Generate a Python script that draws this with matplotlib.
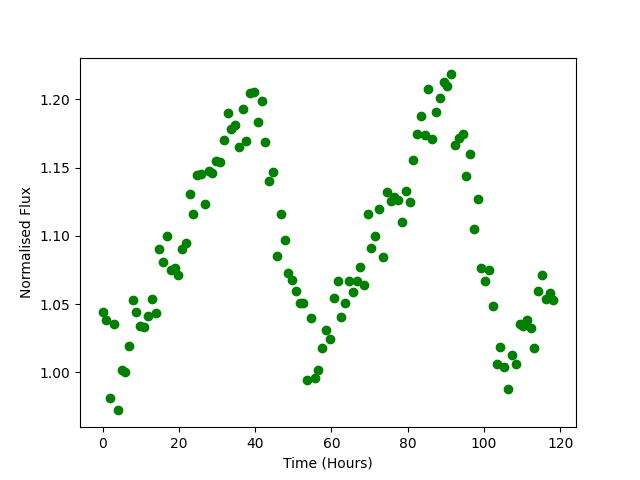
from matplotlib import pyplot as plt

# time of each sample, hours
hours = [0.0, 1.0, 2.0, 3.0, 4.0, 5.0, 6.0, 7.0, 7.9, 8.9,
         9.9, 10.9, 11.9, 12.9, 13.9, 14.9, 15.9, 16.9, 17.9, 18.9,
         19.9, 20.9, 21.9, 22.8, 23.8, 24.8, 25.8, 26.8, 27.8, 28.8,
         29.8, 30.8, 31.8, 32.8, 33.8, 34.8, 35.8, 36.8, 37.7, 38.7,
         39.7, 40.7, 41.7, 42.7, 43.7, 44.7, 45.7, 46.7, 47.7, 48.7,
         49.7, 50.7, 51.7, 52.6, 53.6, 54.6, 55.6, 56.6, 57.6, 58.6,
         59.6, 60.6, 61.6, 62.6, 63.6, 64.6, 65.6, 66.6, 67.5, 68.5,
         69.5, 70.5, 71.5, 72.5, 73.5, 74.5, 75.5, 76.5, 77.5, 78.5,
         79.5, 80.5, 81.5, 82.4, 83.4, 84.4, 85.4, 86.4, 87.4, 88.4,
         89.4, 90.4, 91.4, 92.4, 93.4, 94.4, 95.4, 96.3, 97.3, 98.3,
         99.3, 100.3, 101.3, 102.3, 103.3, 104.3, 105.3, 106.3, 107.3, 108.3,
         109.3, 110.3, 111.2, 112.2, 113.2, 114.2, 115.2, 116.2, 117.2, 118.2]

flux = [1.0444, 1.0386, 0.9810, 1.0356, 0.9722, 1.0015, 1.0005, 1.0195, 1.0527, 1.0444,
        1.0342, 1.0332, 1.0410, 1.0534, 1.0437, 1.0906, 1.0805, 1.0996, 1.0752, 1.0766,
        1.0712, 1.0906, 1.0947, 1.1308, 1.1162, 1.1442, 1.1455, 1.1235, 1.1474, 1.1459,
        1.1547, 1.1537, 1.1704, 1.1901, 1.1784, 1.1813, 1.1654, 1.1930, 1.1698, 1.2045,
        1.2052, 1.1835, 1.1986, 1.1684, 1.1403, 1.1471, 1.0849, 1.1162, 1.0971, 1.0727,
        1.0679, 1.0593, 1.0510, 1.0510, 0.9947, 1.0400, 0.9961, 1.0020, 1.0181, 1.0307,
        1.0247, 1.0547, 1.0668, 1.0408, 1.0510, 1.0666, 1.0586, 1.0666, 1.0771, 1.0642,
        1.1162, 1.0913, 1.0996, 1.1195, 1.0847, 1.1323, 1.1254, 1.1283, 1.1259, 1.1098,
        1.1327, 1.1247, 1.1552, 1.1747, 1.1876, 1.1737, 1.2077, 1.1708, 1.1908, 1.2011,
        1.2125, 1.2096, 1.2182, 1.1662, 1.1718, 1.1747, 1.1435, 1.1596, 1.1047, 1.1272,
        1.0761, 1.0666, 1.0747, 1.0483, 1.0064, 1.0188, 1.0037, 0.9876, 1.0124, 1.0064,
        1.0351, 1.0342, 1.0381, 1.0327, 1.0181, 1.0593, 1.0715, 1.0534, 1.0581, 1.0527]

fig = plt.figure(figsize=(6.4, 4.8), dpi=100)
ax = fig.add_subplot(1, 1, 1)

ax.plot(hours, flux, "go")

ax.set_xlabel("Time (Hours)")
ax.set_ylabel("Normalised Flux")

fig.savefig("out.png")
